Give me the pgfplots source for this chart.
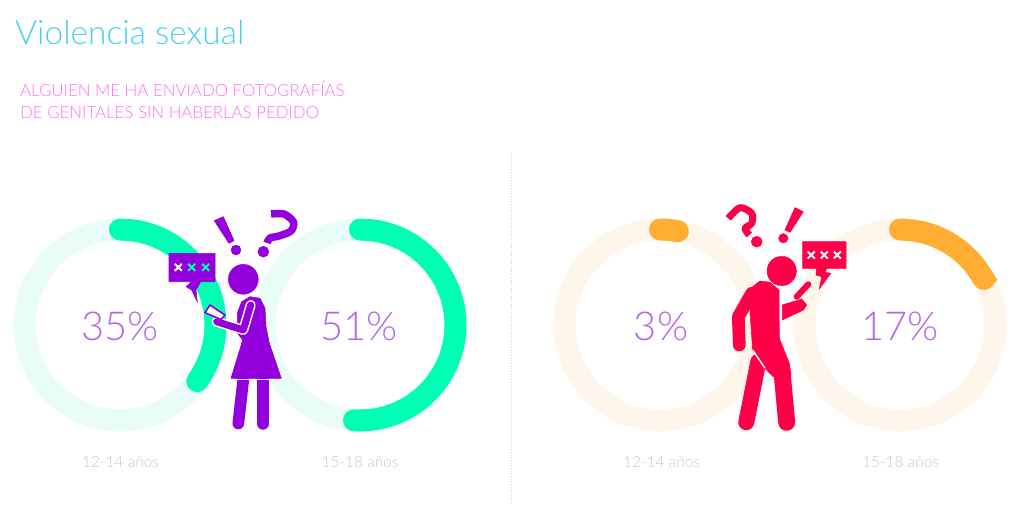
\documentclass[border=0pt]{standalone}
\usepackage{pgfplots}
\usepackage{pgfplotstable}
\usepackage{fontspec}
\pgfplotsset{compat=1.18}
\setmainfont{Lato}[UprightFont=* Light]
\definecolor{cgreen}{HTML}{00FFB4}
\definecolor{tgreen}{HTML}{E8FDF7}
\definecolor{corange}{HTML}{FFAD33}
\definecolor{torange}{HTML}{FFF6EB}
\definecolor{cpurple}{HTML}{9400DC}
\definecolor{cred}{HTML}{FF0048}
\definecolor{ctitle}{HTML}{4CCFEF}
\definecolor{cpink}{HTML}{FF6EF5}
\definecolor{cgray}{HTML}{C6C6C6}
\definecolor{cnum}{HTML}{B366E8}
\pgfplotstableread{
theta r
-90 95.5
-80 95.5
-70 95.5
-60 95.5
-50 95.5
-40 95.5
-30 95.5
-20 95.5
-10 95.5
0 95.5
10 95.5
20 95.5
30 95.5
40 95.5
50 95.5
60 95.5
70 95.5
80 95.5
90 95.5
100 95.5
110 95.5
120 95.5
130 95.5
140 95.5
150 95.5
160 95.5
170 95.5
180 95.5
190 95.5
200 95.5
210 95.5
220 95.5
230 95.5
240 95.5
250 95.5
260 95.5
270 95.5
}\track
% value share of the ring, from 12 o'clock clockwise: 35 %
\pgfplotstableread{
theta r
-90 95.5
-80 95.5
-70 95.5
-60 95.5
-50 95.5
-40 95.5
-30 95.5
-20 95.5
-10 95.5
0 95.5
10 95.5
20 95.5
30 95.5
36 95.5
}\arcA
% 51 %
\pgfplotstableread{
theta r
-90 95.5
-80 95.5
-70 95.5
-60 95.5
-50 95.5
-40 95.5
-30 95.5
-20 95.5
-10 95.5
0 95.5
10 95.5
20 95.5
30 95.5
40 95.5
50 95.5
60 95.5
70 95.5
80 95.5
90 95.5
93.6 95.5
}\arcB
% 3 %
\pgfplotstableread{
theta r
-90 95.5
-85 95.5
-79.2 95.5
}\arcC
% 17 %
\pgfplotstableread{
theta r
-90 95.5
-80 95.5
-70 95.5
-60 95.5
-50 95.5
-40 95.5
-30 95.5
-28.8 95.5
}\arcD
\begin{document}
\begin{tikzpicture}
\useasboundingbox (0,0) rectangle (1024bp,506bp);
\begin{axis}[
  at={(0,0)}, anchor=south west,
  scale only axis, width=1024bp, height=506bp,
  xmin=0, xmax=1024, ymin=0, ymax=506, y dir=reverse,
  hide axis, clip=false,
  ring/.style={no marks, smooth, line width=22bp, line cap=round, data cs=polar},
  shape/.style={no marks, draw=#1, fill=#1, line width=0.6bp, line join=round},
  stroke/.style={no marks, draw=#1, line cap=round, line join=round},
  dot/.style={only marks, mark=*, mark options={draw=#1, fill=#1}},
  xglyph/.style={no marks, draw=#1, line width=2bp},
]
% dashed divider
\addplot[no marks, draw=black!18, line width=0.7bp, dotted] coordinates {(511,153) (511,505)};
% tracks
\addplot[ring, draw=tgreen, xshift=120bp, yshift=-325bp] table {\track};
\addplot[ring, draw=tgreen, xshift=360bp, yshift=-325bp] table {\track};
\addplot[ring, draw=torange, xshift=660bp, yshift=-325bp] table {\track};
\addplot[ring, draw=torange, xshift=900bp, yshift=-325bp] table {\track};
% arcs
\addplot[ring, draw=cgreen, xshift=120bp, yshift=-325bp] table {\arcA};
\addplot[ring, draw=cgreen, xshift=360bp, yshift=-325bp] table {\arcB};
\addplot[ring, draw=corange, xshift=660bp, yshift=-325bp] table {\arcC};
\addplot[ring, draw=corange, xshift=900bp, yshift=-325bp] table {\arcD};

% --- woman ---
\addplot[dot=cpurple, mark size=15bp] coordinates {(243.3,279.3)};
\addplot[stroke=cpurple, line width=11.7bp] coordinates {(243.8,375) (238.3,423.5)};
\addplot[stroke=cpurple, line width=12.5bp] coordinates {(263,375) (263,423.5)};
\addplot[shape=cpurple] coordinates {(250,296.7) (260,298.3) (265,308.3) (266,326.7) (269.3,343.3) (281.3,378.3) (231,378.3) (242.7,340) (237.3,333) (237.3,313) (241.7,301.7)} --cycle;
\addplot[no marks, draw=white, line width=1.2bp] coordinates {(228,379.8) (285,379.8)};
\addplot[stroke=white, line width=10bp] coordinates {(250.7,305) (243.3,330) (216.7,321.7)};
\addplot[stroke=cpurple, line width=7bp] coordinates {(250.7,305) (243.3,330) (216.7,321.7)};
\addplot[no marks, draw=cpurple, fill=white, line width=1.6bp, line join=round] coordinates {(210,305) (225,315) (221,319.5) (205,312.7)} --cycle;
\addplot[shape=cpurple] coordinates {(169,253.3) (215,253.3) (215,281.7) (200.7,281.7) (196,290) (197.3,301.7) (191.7,290) (186,286.7) (191.7,281.7) (169,281.7)} --cycle;
\addplot[xglyph=white] coordinates {(174.8,263.8) (181.8,270.8)};
\addplot[xglyph=white] coordinates {(174.8,270.8) (181.8,263.8)};
\addplot[xglyph=cgreen] coordinates {(188.2,263.8) (195.2,270.8)};
\addplot[xglyph=cgreen] coordinates {(188.2,270.8) (195.2,263.8)};
\addplot[xglyph=cgreen] coordinates {(202.2,263.8) (209.2,270.8)};
\addplot[xglyph=cgreen] coordinates {(202.2,270.8) (209.2,263.8)};
\addplot[shape=cpurple] coordinates {(214.3,220.7) (223.3,216.7) (234,240.7) (229,243.3)} --cycle;
\addplot[dot=cpurple, mark size=5bp] coordinates {(236,250)};
\addplot[stroke=cpurple, smooth, line width=7.5bp, line cap=butt] coordinates {(271,214) (284,214) (293.5,222) (291,231) (279,236) (270,238) (267,243)};
\addplot[dot=cpurple, mark size=5.5bp] coordinates {(263.3,251.7)};

% --- man ---
\addplot[dot=cred, mark size=14.7bp] coordinates {(781.7,271)};
\addplot[stroke=cred, line width=16bp] coordinates {(758.3,361.7) (746.3,422.3)};
\addplot[shape=cred] coordinates {(750.7,288.3) (760,281) (770,282.3) (779,290) (779.3,338.3) (789.3,363.3) (791,375) (773.3,376.7) (765,368.3) (752.7,350) (750,311.7)} --cycle;
\addplot[no marks, draw=white, line width=1.4bp] coordinates {(752.7,350) (765,368.3)};
\addplot[stroke=cred, line width=17bp] coordinates {(782.3,375) (786.7,422.3)};
\addplot[stroke=cred, line width=12.7bp] coordinates {(751.7,293.3) (738.3,316.7) (739.3,345)};
\addplot[shape=cred] coordinates {(782.3,305) (801.7,299) (806.7,305) (803.3,310) (782.3,320)} --cycle;
\addplot[stroke=cred, line width=6bp] coordinates {(808.3,284.3) (796.7,296.7)};
\addplot[shape=cred] coordinates {(802.7,241.7) (846,241.7) (846,268.3) (826.7,268.3) (825,272.3) (830.7,273.3) (819.3,289) (821.7,276.7) (816,275) (816.7,268.3) (802.7,268.3)} --cycle;
\addplot[xglyph=white] coordinates {(807.8,251.5) (814.8,258.5)};
\addplot[xglyph=white] coordinates {(807.8,258.5) (814.8,251.5)};
\addplot[xglyph=white] coordinates {(820.8,251.5) (827.8,258.5)};
\addplot[xglyph=white] coordinates {(820.8,258.5) (827.8,251.5)};
\addplot[xglyph=white] coordinates {(833.8,251.5) (840.8,258.5)};
\addplot[xglyph=white] coordinates {(833.8,258.5) (840.8,251.5)};
\addplot[stroke=cred, smooth, line width=7bp, line cap=butt] coordinates {(728.3,218.3) (740,207.7) (751.7,213.3) (751.7,223.3) (745,228.3) (749.3,235)};
\addplot[dot=cred, mark size=5.5bp] coordinates {(756.7,241.7)};
\addplot[shape=cred] coordinates {(795,207.7) (803.3,211.7) (790,232.3) (785,230)} --cycle;
\addplot[dot=cred, mark size=4.7bp] coordinates {(783.3,238.3)};

% --- text ---
\node[anchor=base west, inner sep=0pt, text=ctitle, font=\fontsize{33.6}{33.6}\selectfont] at (axis cs:15,45) {Violencia sexual};
\node[anchor=base west, inner sep=0pt, text=cpink, font=\fontsize{16.9}{16.9}\selectfont] at (axis cs:20,96) {ALGUIEN ME HA ENVIADO FOTOGRAFÍAS};
\node[anchor=base west, inner sep=0pt, text=cpink, font=\fontsize{16.9}{16.9}\selectfont] at (axis cs:20,118) {DE GENITALES SIN HABERLAS PEDIDO};
\node[text=cnum, inner sep=0pt, font=\fontsize{40}{40}\selectfont] at (axis cs:120,326) {35\%};
\node[text=cnum, inner sep=0pt, font=\fontsize{40}{40}\selectfont] at (axis cs:359,326) {51\%};
\node[text=cnum, inner sep=0pt, font=\fontsize{40}{40}\selectfont] at (axis cs:661,326) {3\%};
\node[text=cnum, inner sep=0pt, font=\fontsize{40}{40}\selectfont] at (axis cs:900,326) {17\%};
\node[text=cgray, inner sep=0pt, font=\fontsize{15.5}{15.5}\selectfont] at (axis cs:120.5,462) {12-14 años};
\node[text=cgray, inner sep=0pt, font=\fontsize{15.5}{15.5}\selectfont] at (axis cs:360,462) {15-18 años};
\node[text=cgray, inner sep=0pt, font=\fontsize{15.5}{15.5}\selectfont] at (axis cs:661.5,462) {12-14 años};
\node[text=cgray, inner sep=0pt, font=\fontsize{15.5}{15.5}\selectfont] at (axis cs:900.5,462) {15-18 años};
\end{axis}
\end{tikzpicture}
\end{document}
